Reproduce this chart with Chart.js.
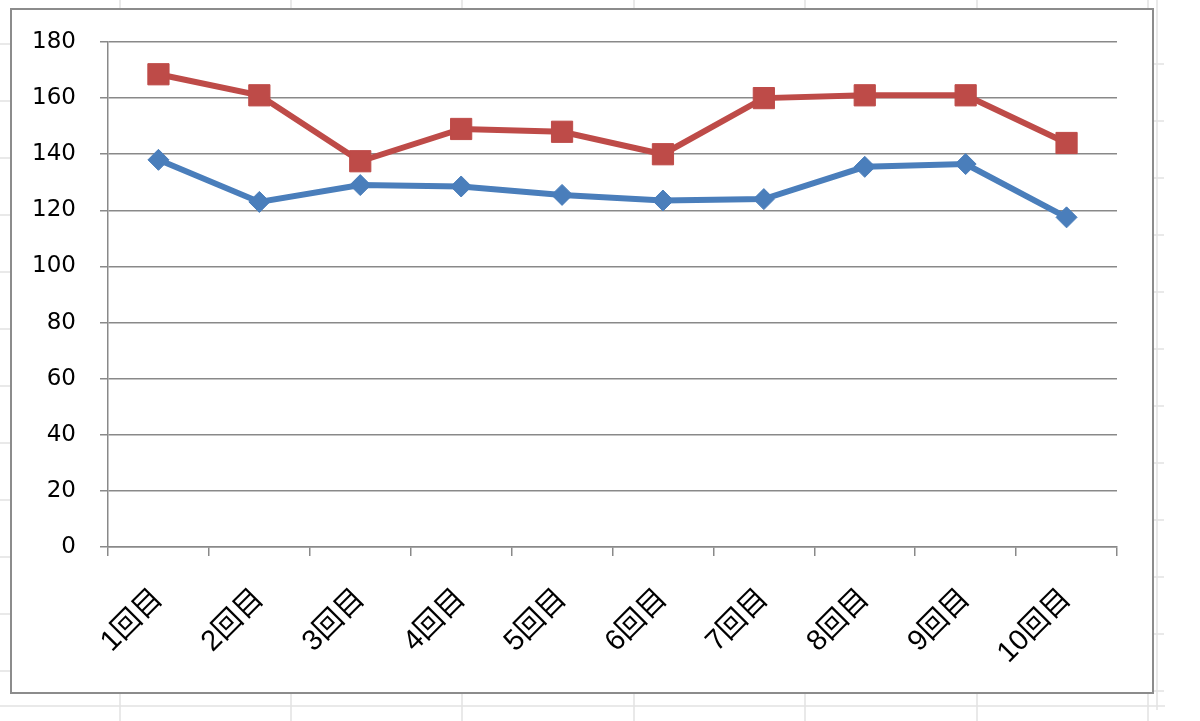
<!DOCTYPE html>
<html>
<head>
<meta charset="utf-8">
<script src="https://cdn.jsdelivr.net/npm/chart.js@4.4.1/dist/chart.umd.min.js"></script>
<style>
  html, body { margin: 0; padding: 0; background: #fff; }
  #wrap { width: 1200px; height: 721px; position: relative; }
</style>
</head>
<body>
<div id="wrap"><canvas id="myChart" width="1200" height="721"></canvas></div>
<script>
// categories and values
const labels = ['1回目', '2回目', '3回目', '4回目', '5回目', '6回目', '7回目', '8回目', '9回目', '10回目'];
const blueValues = [138, 123, 129, 128.5, 125.5, 123.5, 124, 135.5, 136.5, 117.5];
const redValues = [168.5, 161, 137.5, 149, 148, 140, 160, 161, 161, 144];
const yTicks = [0, 20, 40, 60, 80, 100, 120, 140, 160, 180];

const BLUE = '#4a7ebb';
const RED = '#be4b48';
const GRID = '#898989';

// sheet lines + chart frame, like an Excel screenshot
const sheetBackground = {
  id: 'sheetBackground',
  beforeDraw: (chart) => {
    const ctx = chart.ctx;
    ctx.save();
    ctx.fillStyle = '#fff';
    ctx.fillRect(0, 0, chart.width, chart.height);

    ctx.strokeStyle = '#e2e2e2';
    ctx.lineWidth = 1.5;
    const cols = [120, 291, 462, 634, 805, 977, 1148];
    cols.forEach(x => {
      ctx.beginPath(); ctx.moveTo(x, 0); ctx.lineTo(x, 8); ctx.stroke();
      ctx.beginPath(); ctx.moveTo(x, 693); ctx.lineTo(x, 721); ctx.stroke();
    });
    ctx.beginPath(); ctx.moveTo(0, 706); ctx.lineTo(1165, 706); ctx.stroke();
    ctx.beginPath(); ctx.moveTo(1157, 0); ctx.lineTo(1157, 710); ctx.stroke();
    for (let y = 44; y < 700; y += 57) {
      ctx.beginPath(); ctx.moveTo(0, y); ctx.lineTo(10, y); ctx.stroke();
      ctx.beginPath(); ctx.moveTo(1153, y + 20); ctx.lineTo(1164, y + 20); ctx.stroke();
    }

    // chart area frame
    ctx.strokeStyle = '#8c8c8c';
    ctx.lineWidth = 2;
    ctx.strokeRect(11, 9, 1142, 684);
    ctx.restore();
  }
};

const ctx = document.getElementById('myChart');

const myChart = new Chart(ctx, {
  type: 'line',
  data: {
    labels: labels,
    datasets: [
      {
        label: 'A',
        data: blueValues,
        borderColor: BLUE,
        backgroundColor: BLUE,
        borderWidth: 6,
        pointStyle: 'rectRot',
        pointRadius: 10.5,
        pointBorderWidth: 1,
        tension: 0
      },
      {
        label: 'B',
        data: redValues,
        borderColor: RED,
        backgroundColor: RED,
        borderWidth: 6,
        pointStyle: 'rect',
        pointRadius: 15,
        pointBorderWidth: 1,
        tension: 0
      }
    ]
  },
  options: {
    responsive: false,
    animation: false,
    devicePixelRatio: 1,
    layout: {
      padding: { left: 0, top: 42, right: 83, bottom: 0 }
    },
    plugins: {
      legend: { display: false },
      tooltip: { enabled: false },
      title: { display: false }
    },
    scales: {
      x: {
        type: 'category',
        offset: true,
        afterFit: (scale) => { scale.height = 174; },
        grid: {
          offset: true,
          drawOnChartArea: false,
          drawTicks: true,
          tickLength: 9,
          color: GRID,
          lineWidth: 1.5
        },
        border: { display: true, color: GRID, width: 1.5 },
        ticks: {
          autoSkip: false,
          maxRotation: 45,
          minRotation: 45,
          padding: 26,
          color: '#000',
          font: { family: '"Liberation Sans", "Noto Sans CJK JP", sans-serif', size: 29 }
        }
      },
      y: {
        min: 0,
        max: 180,
        afterFit: (scale) => { scale.width = 108; },
        afterBuildTicks: (scale) => {
          scale.ticks = yTicks.map(v => ({ value: v }));
        },
        grid: {
          drawTicks: true,
          tickLength: 8,
          color: GRID,
          lineWidth: 1.5
        },
        border: { display: true, color: GRID, width: 1.5 },
        ticks: {
          padding: 24,
          color: '#000',
          font: { family: '"DejaVu Sans", sans-serif', size: 23 }
        }
      }
    }
  },
  plugins: [sheetBackground]
});
</script>
</body>
</html>
